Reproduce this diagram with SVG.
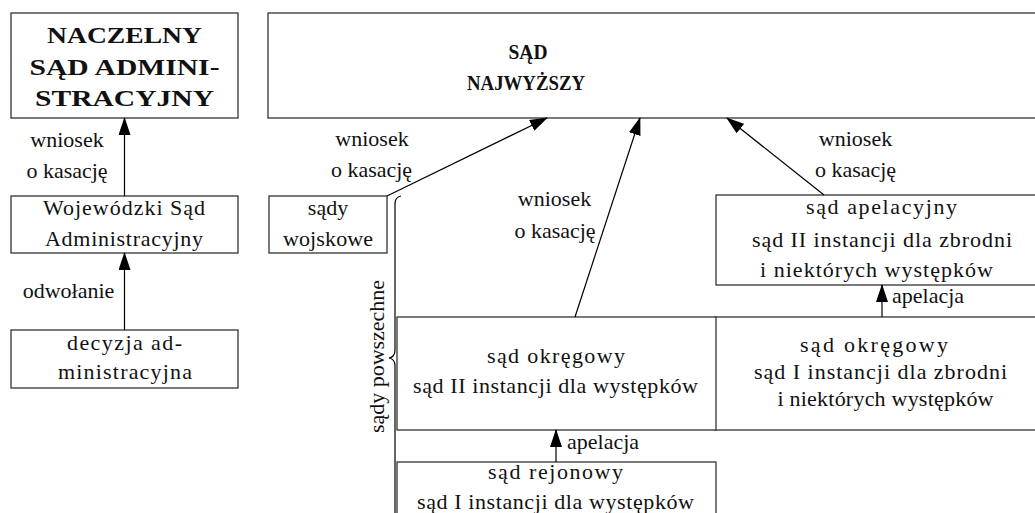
<svg xmlns="http://www.w3.org/2000/svg" width="1035" height="513" viewBox="0 0 1035 513">
<style>
  .box { fill: #ffffff; stroke: #333333; stroke-width: 1.3; }
  .t { font-family: "Liberation Serif", "Times New Roman", serif; font-size: 22px; fill: #111111; text-anchor: middle; }
  .b { font-family: "Liberation Serif", "Times New Roman", serif; font-size: 24px; font-weight: bold; fill: #111111; text-anchor: middle; }
  .bn { font-family: "Liberation Serif", "Times New Roman", serif; font-size: 20px; font-weight: bold; fill: #111111; text-anchor: middle; }
  .lab { font-family: "Liberation Serif", "Times New Roman", serif; font-size: 22px; fill: #111111; text-anchor: middle; }
  .labl { font-family: "Liberation Serif", "Times New Roman", serif; font-size: 22px; fill: #111111; text-anchor: start; }
  .conn { fill: none; stroke: #000000; stroke-width: 1.2; }
</style>
<defs>
  <marker id="arrow" markerUnits="userSpaceOnUse" markerWidth="18" markerHeight="12" refX="17" refY="6" orient="auto">
    <path d="M0,0 L18,6 L0,12 z" fill="#000000"/>
  </marker>
</defs>
<rect x="0" y="0" width="1035" height="513" fill="#ffffff"/>

<g id="nsa">
  <rect class="box" x="11" y="13" width="227" height="105"/>
  <text class="b" x="124.5" y="43" textLength="155" lengthAdjust="spacingAndGlyphs">NACZELNY</text>
  <text class="b" x="124.5" y="75" textLength="190" lengthAdjust="spacingAndGlyphs">SĄD ADMINI-</text>
  <text class="b" x="124.5" y="106" textLength="179" lengthAdjust="spacingAndGlyphs">STRACYJNY</text>
</g>

<g id="sn">
  <rect class="box" x="268" y="13" width="800" height="105"/>
  <text class="bn" x="528" y="59" textLength="39" lengthAdjust="spacingAndGlyphs">SĄD</text>
  <text class="bn" x="526" y="90" textLength="118" lengthAdjust="spacingAndGlyphs">NAJWYŻSZY</text>
</g>

<g id="wsa">
  <rect class="box" x="11" y="196" width="227" height="57"/>
  <text class="t" x="124" y="215" textLength="162">Wojewódzki Sąd</text>
  <text class="t" x="124" y="246" textLength="158">Administracyjny</text>
</g>

<g id="decyzja">
  <rect class="box" x="11" y="330" width="227" height="58"/>
  <text class="t" x="124.5" y="350" textLength="115">decyzja ad-</text>
  <text class="t" x="125" y="379" textLength="134">ministracyjna</text>
</g>

<g id="wojskowe">
  <rect class="box" x="269" y="196" width="118" height="57"/>
  <text class="t" x="328" y="215">sądy</text>
  <text class="t" x="328" y="246" textLength="90">wojskowe</text>
</g>

<g id="apelacyjny">
  <rect class="box" x="716" y="195" width="340" height="90"/>
  <text class="t" x="881.5" y="214" textLength="151">sąd  apelacyjny</text>
  <text class="t" x="882" y="247" textLength="260">sąd II instancji dla zbrodni</text>
  <text class="t" x="876.5" y="277" textLength="233">i niektórych występków</text>
</g>

<g id="okregowy1">
  <rect class="box" x="715" y="317" width="340" height="113"/>
  <text class="t" x="874" y="352" textLength="148">sąd  okręgowy</text>
  <text class="t" x="880.5" y="379" textLength="253">sąd I instancji dla zbrodni</text>
  <text class="t" x="885.5" y="406" textLength="216">i niektórych występków</text>
</g>

<g id="okregowy2">
  <rect class="box" x="397" y="317" width="319" height="113"/>
  <text class="t" x="556" y="363" textLength="138">sąd  okręgowy</text>
  <text class="t" x="555.5" y="393" textLength="285">sąd II instancji dla występków</text>
</g>

<g id="rejonowy">
  <rect class="box" x="397" y="462" width="319" height="80"/>
  <text class="t" x="555.5" y="479" textLength="135">sąd  rejonowy</text>
  <text class="t" x="555.5" y="509" textLength="277">sąd I instancji dla występków</text>
</g>

<g id="powszechne">
  <path class="conn" d="M401,196 Q395,197 395,204 L395,350 Q395,357 389,358 Q395,359 395,366 L395,520"/>
  <text class="t" transform="translate(384,356.5) rotate(-90)" textLength="153">sądy powszechne</text>
</g>

<g id="connectors">
  <line class="conn" x1="124.5" y1="196" x2="124.5" y2="118" marker-end="url(#arrow)"/>
  <line class="conn" x1="124.5" y1="330" x2="124.5" y2="253" marker-end="url(#arrow)"/>
  <line class="conn" x1="387" y1="196" x2="547" y2="118" marker-end="url(#arrow)"/>
  <line class="conn" x1="575" y1="317" x2="640" y2="118" marker-end="url(#arrow)"/>
  <line class="conn" x1="824" y1="195" x2="727" y2="118" marker-end="url(#arrow)"/>
  <line class="conn" x1="882" y1="317" x2="882" y2="285" marker-end="url(#arrow)"/>
  <line class="conn" x1="556" y1="462" x2="556" y2="430" marker-end="url(#arrow)"/>

  <text class="lab" x="67" y="147">wniosek</text>
  <text class="lab" x="67" y="178">o kasację</text>
  <text class="lab" x="68.5" y="298">odwołanie</text>

  <text class="lab" x="372" y="146">wniosek</text>
  <text class="lab" x="371.5" y="177">o kasację</text>

  <text class="lab" x="554.5" y="206">wniosek</text>
  <text class="lab" x="555" y="238">o kasację</text>

  <text class="lab" x="855.5" y="146">wniosek</text>
  <text class="lab" x="855.5" y="177">o kasację</text>

  <text class="labl" x="892" y="303">apelacja</text>
  <text class="labl" x="567" y="449">apelacja</text>
</g>
</svg>
